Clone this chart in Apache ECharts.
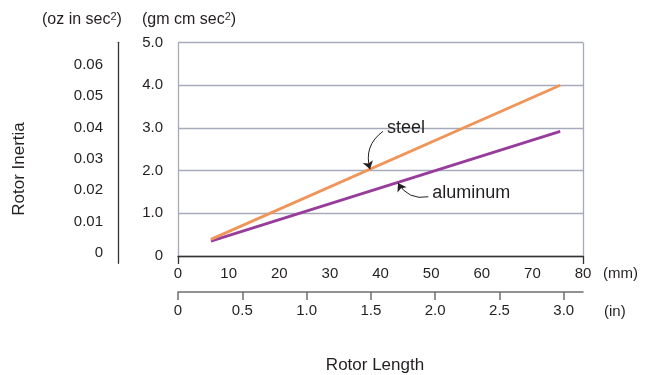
<!DOCTYPE html>
<html>
<head>
<meta charset="utf-8">
<script src="https://cdn.jsdelivr.net/npm/echarts@6/dist/echarts.min.js"></script>
<style>
html,body{margin:0;padding:0;background:#fff;}
#c{width:657px;height:375px;}
</style>
</head>
<body>
<div id="c"></div>
<script>
// ---- data ----
const steelLength = [6.5, 75.5];          // mm
const steelInertia = [0.39, 4.0];         // gm cm sec^2
const aluminumLength = [6.5, 75.5];       // mm
const aluminumInertia = [0.35, 2.92];     // gm cm sec^2
const mmTicks = [0, 10, 20, 30, 40, 50, 60, 70, 80];
const inTicks = [0, 0.5, 1.0, 1.5, 2.0, 2.5, 3.0];
const gmTicks = [0, 1, 2, 3, 4, 5];
const ozTicks = [0, 0.01, 0.02, 0.03, 0.04, 0.05, 0.06];
const steelLabel = {text: 'steel', at: [41.3, 2.99], arrowFrom: [40.5, 2.92], arrowTo: [37.93, 2.03]};
const aluminumLabel = {text: 'aluminum', at: [50.2, 1.48], arrowFrom: [49.44, 1.387], arrowTo: [43.46, 1.71]};

const FONT = 'Liberation Sans, Arial, sans-serif';
const TXT = '#231f20';
const GRIDC = '#a6aabb';

function zip(a, b) { return a.map((v, i) => [v, b[i]]); }

function labelPoint(lbl) {
  return {
    markPoint: {
      silent: true, animation: false,
      data: [{
        coord: lbl.at, symbol: 'circle', symbolSize: 0,
        label: {show: true, position: 'right', distance: 0, formatter: lbl.text,
                color: TXT, fontSize: 18, fontFamily: FONT}
      }]
    }
  };
}

function arrow(lbl, curv) {
  return {
    type: 'lines', coordinateSystem: 'cartesian2d', xAxisIndex: 0, yAxisIndex: 0,
    silent: true, z: 5,
    symbol: ['none', 'arrow'], symbolSize: 8,
    lineStyle: {color: TXT, width: 1, opacity: 1, curveness: curv},
    itemStyle: {color: TXT},
    data: [{coords: [lbl.arrowFrom, lbl.arrowTo]}]
  };
}

const chart = echarts.init(document.getElementById('c'));
chart.setOption({
  animation: false,
  textStyle: {fontFamily: FONT, color: TXT},
  grid: [
    {left: 178, top: 42.5, width: 405, height: 213.5, containLabel: false},
    {left: 118, top: 42.3, width: 2, height: 221, containLabel: false}
  ],
  xAxis: [
    {
      type: 'value', gridIndex: 0, min: mmTicks[0], max: mmTicks[mmTicks.length - 1], interval: 10,
      axisLine: {show: true, lineStyle: {color: '#333', width: 1.3}},
      axisTick: {show: true, customValues: [mmTicks[0], mmTicks[mmTicks.length - 1]], length: 8, lineStyle: {color: '#333', width: 1.3}},
      axisLabel: {show: true, margin: 10, fontSize: 15, color: TXT, fontFamily: FONT},
      splitLine: {show: true, lineStyle: {color: GRIDC, width: 1.3}}
    },
    {
      type: 'value', gridIndex: 0, position: 'bottom', offset: 36,
      min: 0, max: 80 / 25.4,
      axisLine: {show: true, lineStyle: {color: '#6f6f6f', width: 1.5}},
      axisTick: {show: true, customValues: inTicks, length: 8, lineStyle: {color: '#6f6f6f', width: 1.5}},
      axisLabel: {show: true, customValues: inTicks, margin: 11, fontSize: 15, color: TXT, fontFamily: FONT,
                  formatter: v => v === 0 ? '0' : v.toFixed(1)},
      splitLine: {show: false}
    },
    {type: 'value', gridIndex: 1, show: false, min: 0, max: 1}
  ],
  yAxis: [
    {
      type: 'value', gridIndex: 0, min: gmTicks[0], max: gmTicks[gmTicks.length - 1], interval: 1,
      axisLine: {show: false}, axisTick: {show: false},
      axisLabel: {show: true, margin: 15, fontSize: 15, color: TXT, fontFamily: FONT,
                  formatter: v => v === 0 ? '0' : v.toFixed(1)},
      splitLine: {show: true, lineStyle: {color: GRIDC, width: 1.3}}
    },
    {
      type: 'value', gridIndex: 1, min: -0.003246, max: 0.06707,
      axisLine: {show: true, lineStyle: {color: '#333', width: 1.3}},
      axisTick: {show: false},
      axisLabel: {show: true, customValues: ozTicks, margin: 15, fontSize: 15, color: TXT, fontFamily: FONT,
                  formatter: v => v === 0 ? '0' : v.toFixed(2)},
      splitLine: {show: false}
    }
  ],
  series: [
    Object.assign({
      name: 'aluminum', type: 'line', xAxisIndex: 0, yAxisIndex: 0,
      data: zip(aluminumLength, aluminumInertia),
      symbol: 'none', lineStyle: {color: '#983c9c', width: 2.8}, itemStyle: {color: '#983c9c'}, z: 3
    }, labelPoint(aluminumLabel)),
    Object.assign({
      name: 'steel', type: 'line', xAxisIndex: 0, yAxisIndex: 0,
      data: zip(steelLength, steelInertia),
      symbol: 'none', lineStyle: {color: '#f0955a', width: 2.8}, itemStyle: {color: '#f0955a'}, z: 4
    }, labelPoint(steelLabel)),
    arrow(steelLabel, -0.35),
    arrow(aluminumLabel, 0.35)
  ],
  graphic: [
    {type: 'text', left: 42, top: 11, style: {text: '(oz in sec{s|2})', fontSize: 16, fontFamily: FONT, fill: TXT,
      rich: {s: {fontSize: 11, fontFamily: FONT, fill: TXT, verticalAlign: 'top', lineHeight: 18}}}},
    {type: 'text', left: 142, top: 11, style: {text: '(gm cm sec{s|2})', fontSize: 16, fontFamily: FONT, fill: TXT,
      rich: {s: {fontSize: 11, fontFamily: FONT, fill: TXT, verticalAlign: 'top', lineHeight: 18}}}},
    {type: 'text', x: 19, y: 169, rotation: Math.PI / 2,
      style: {text: 'Rotor Inertia', fontSize: 17, fontFamily: FONT, fill: TXT, align: 'center', verticalAlign: 'middle'}},
    {type: 'text', x: 375, y: 365,
      style: {text: 'Rotor Length', fontSize: 17, fontFamily: FONT, fill: TXT, align: 'center', verticalAlign: 'middle'}},
    {type: 'text', x: 603, y: 274,
      style: {text: '(mm)', fontSize: 15, fontFamily: FONT, fill: TXT, align: 'left', verticalAlign: 'middle'}},
    {type: 'text', x: 604, y: 312,
      style: {text: '(in)', fontSize: 15, fontFamily: FONT, fill: TXT, align: 'left', verticalAlign: 'middle'}}
  ]
});
</script>
</body>
</html>
